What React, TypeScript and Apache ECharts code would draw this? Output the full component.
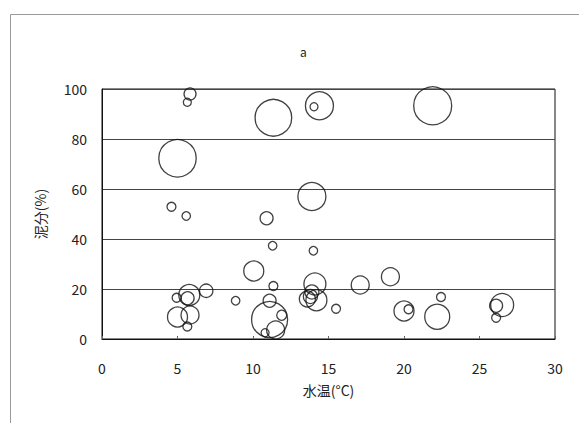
import React, { useEffect, useRef } from "react";
import * as echarts from "echarts";

// water temperature (°C)
const waterTemp = [
  5.83, 5.65, 11.35, 14.4, 14.04, 21.9, 5.0, 13.9, 4.6, 5.58,
  10.9, 11.3, 14.0, 10.05, 11.35, 6.9, 5.78, 4.94, 5.67, 8.85,
  11.1, 5.83, 5.0, 5.65, 11.1, 11.9, 11.5, 10.8, 14.1, 13.9,
  13.8, 14.2, 13.6, 15.5, 17.1, 19.1, 20.0, 20.3, 22.45, 22.2,
  26.5, 26.1, 26.1,
];
// mud content (%)
const mudContent = [
  98, 94.7, 88.5, 93.3, 92.9, 93.3, 72.3, 57, 52.9, 49.2,
  48.3, 37.3, 35.3, 27.2, 21.2, 19.3, 17.6, 16.5, 16.3, 15.3,
  15.3, 9.6, 8.8, 5.0, 7.8, 9.5, 3.6, 2.5, 22, 18.8,
  17, 15.5, 16, 12.1, 21.6, 24.9, 11.2, 11.9, 16.8, 8.9,
  13.6, 13.3, 8.5,
];
// bubble value (third variable, area-proportional)
const bubbleValue = [
  3.6, 1.6, 33.5, 19.6, 1.6, 36.1, 35, 19.6, 2.0, 1.8,
  4.2, 1.8, 1.8, 10, 2.0, 4.5, 11, 2.0, 4.2, 1.8,
  4.2, 8.1, 10, 2.0, 32.4, 2.5, 8.1, 1.6, 12.1, 4.9,
  4.9, 11, 6.4, 2.0, 8.1, 8.1, 10, 2.0, 2.0, 15.6,
  13.2, 4.2, 2.0,
];

const xTicks = { min: 0, max: 30, interval: 5 };
const yTicks = { min: 0, max: 100, interval: 20 };

const FONT = "'Noto Sans CJK JP', 'Noto Sans', sans-serif";

export default function App() {
  const ref = useRef<HTMLDivElement>(null);
  useEffect(() => {
    if (!ref.current) return;
    const chart = echarts.init(ref.current, undefined, { renderer: "svg" });
    const data = waterTemp.map((t, i) => [t, mudContent[i], bubbleValue[i]]);
    chart.setOption({
      animation: false,
      backgroundColor: "#fff",
      textStyle: { fontFamily: FONT },
      title: {
        text: "a",
        left: 295,
        top: 40,
        textStyle: { fontSize: 12, fontWeight: "normal", color: "#222", fontFamily: FONT },
      },
      graphic: [
        {
          type: "rect",
          shape: { x: 10.5, y: 14.5, width: 620, height: 500 },
          style: { fill: "none", stroke: "#999", lineWidth: 1 },
          silent: true,
        },
      ],
      grid: { left: 102, top: 89, right: 24, bottom: 84, show: true, borderColor: "#111", borderWidth: 1 },
      xAxis: {
        type: "value",
        min: xTicks.min,
        max: xTicks.max,
        interval: xTicks.interval,
        name: "水温(°C)",
        nameLocation: "middle",
        nameGap: 44,
        nameTextStyle: { fontSize: 14, color: "#222", fontFamily: FONT },
        axisLine: { show: true, lineStyle: { color: "#111", width: 1 } },
        axisTick: { show: true, inside: true, length: 3, lineStyle: { color: "#666" } },
        axisLabel: { fontSize: 14, color: "#222", margin: 22, fontFamily: FONT },
        splitLine: { show: false },
      },
      yAxis: {
        type: "value",
        min: yTicks.min,
        max: yTicks.max,
        interval: yTicks.interval,
        name: "泥分(%)",
        nameLocation: "middle",
        nameGap: 55,
        nameRotate: 90,
        nameTextStyle: { fontSize: 14, color: "#222", fontFamily: FONT },
        axisLine: { show: true, lineStyle: { color: "#111", width: 1 } },
        axisTick: { show: false },
        axisLabel: { fontSize: 14, color: "#222", margin: 15, fontFamily: FONT },
        splitLine: { show: true, lineStyle: { color: "#444", width: 1 } },
      },
      series: [
        {
          type: "scatter",
          data,
          symbol: "circle",
          symbolSize: (v: number[]) => 2 * Math.sqrt(v[2] * 10),
          itemStyle: { color: "rgba(255,255,255,0)", borderColor: "#111", borderWidth: 1.3 },
          emphasis: { disabled: true },
        },
      ],
    });
    return () => chart.dispose();
  }, []);
  return (
    <div
      ref={ref}
      style={{ position: "fixed", left: 0, top: 0, width: 579, height: 423, background: "#fff" }}
    />
  );
}
